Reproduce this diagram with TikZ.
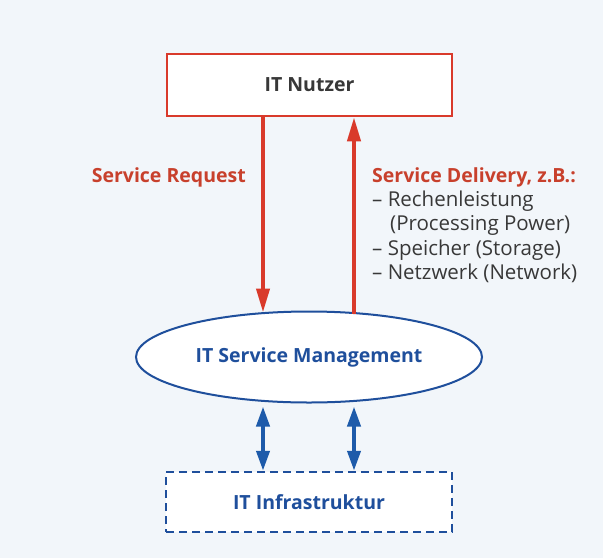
\documentclass[tikz,border=0pt]{standalone}
\usepackage{fontspec}
\setmainfont{Open Sans}
\usetikzlibrary{arrows.meta,shapes.geometric}
\definecolor{bgc}{HTML}{F2F6FA}
\definecolor{redc}{HTML}{D93A2B}
\definecolor{redt}{HTML}{C8402C}
\definecolor{bluec}{HTML}{1F4F9C}
\definecolor{bluea}{HTML}{1E5BAA}
\definecolor{grayt}{HTML}{383838}
\tikzset{
  lbl/.style={font=\fontsize{19.5}{23}\selectfont\bfseries, inner sep=0pt},
  txt/.style={font=\fontsize{20.5}{24}\selectfont, inner sep=0pt, text=grayt, anchor=base west},
  redarrow/.style={draw=redc, line width=4pt, -{Triangle[length=24pt,width=13pt]}},
  bluearrow/.style={draw=bluea, line width=4pt, {Triangle[length=20pt,width=13pt]}-{Triangle[length=20pt,width=13pt]}},
}
\begin{document}
\begin{tikzpicture}[x=1pt,y=-1pt]
\fill[bgc] (0,0) rectangle (603,558);
\useasboundingbox (0,0) rectangle (603,558);
\node[draw=redc, line width=2.5pt, fill=white, minimum width=285pt, minimum height=62pt, lbl, text=grayt] (nutzer) at (309.5,85) {IT Nutzer};
\node[ellipse, draw=bluec, line width=2pt, fill=white, minimum width=346pt, minimum height=91pt, lbl, text=bluec] (ism) at (309,357) {IT Service Management};
\node[draw=bluec, line width=2.5pt, dash pattern=on 8pt off 5pt, fill=white, minimum width=286pt, minimum height=60pt, lbl, text=bluec] (infra) at (309,502) {IT Infrastruktur};
\coordinate (c1) at (263,0);
\coordinate (c2) at (354,0);
\draw[redarrow] (nutzer.south -| c1) -- ([yshift=-2pt]ism.north -| c1);
\draw[redarrow] ([yshift=-3pt]ism.north -| c2) -- (nutzer.south -| c2);
\draw[bluearrow, shorten <=3pt] (ism.south -| c1) -- (infra.north -| c1);
\draw[bluearrow, shorten <=3pt] (ism.south -| c2) -- (infra.north -| c2);
\node[lbl, text=redt, anchor=base east] (req) at (246,182) {Service Request};
\node[lbl, text=redt, anchor=base west] (del) at (372,182) {Service Delivery, z.B.:};
\node[txt] (d1) at (372,206) {– Rechenleistung};
\node[txt] (d2) at (390,230) {(Processing Power)};
\node[txt] (d3) at (372,255) {– Speicher (Storage)};
\node[txt] (d4) at (372,279) {– Netzwerk (Network)};
\end{tikzpicture}
\end{document}
